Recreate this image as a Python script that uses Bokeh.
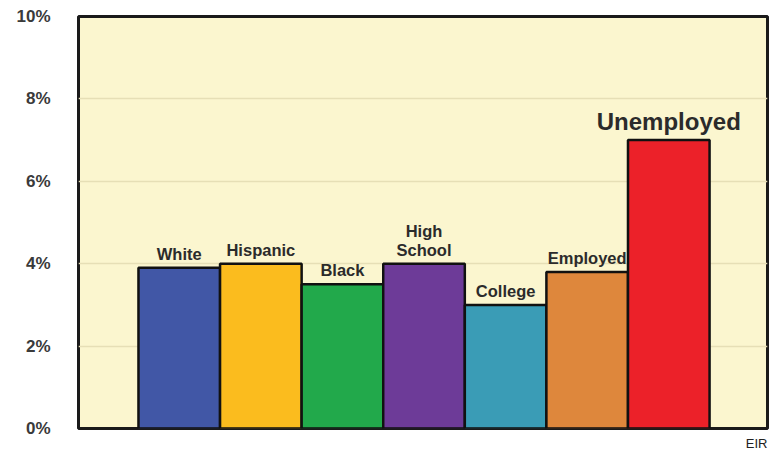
from bokeh.plotting import figure
from bokeh.models import ColumnDataSource, FixedTicker, Range1d, Title, LabelSet
from bokeh.core.properties import value
from bokeh.embed import file_html
from bokeh.resources import INLINE

categories = ["White", "Hispanic", "Black", "High School", "College", "Employed", "Unemployed"]
values = [3.9, 4.0, 3.5, 4.0, 3.0, 3.8, 7.0]
colors = ["#4157a6", "#fbbc1e", "#22a94b", "#6d3b98", "#3a9cb6", "#de873c", "#ec2129"]
y_ticks = [0, 2, 4, 6, 8, 10]
y_tick_labels = ["0%", "2%", "4%", "6%", "8%", "10%"]

xs = list(range(len(categories)))
# split labels into lines (last line sits on the bar)
lower_line, upper_line, sizes = [], [], []
for c in categories:
    if c == "High School":
        upper_line.append("High")
        lower_line.append("School")
    else:
        upper_line.append("")
        lower_line.append(c)
    sizes.append("24px" if c == "Unemployed" else "16.5px")

src = ColumnDataSource(dict(x=xs, top=values, color=colors, lower=lower_line,
                            upper=upper_line, size=sizes))

p = figure(width=774, height=455, output_backend="svg", toolbar_location=None,
           x_range=Range1d(-1.235, 7.21), y_range=Range1d(0, 10),
           min_border_left=78, min_border_right=7, min_border_top=16, min_border_bottom=4,
           background_fill_color="#fbf6cf", border_fill_color="white")

p.vbar(x="x", top="top", width=1.0, bottom=0, fill_color="color",
       line_color="#111111", line_width=2.5, source=src)

common = dict(x="x", y="top", source=src, text_align="center", text_baseline="bottom",
              text_font_size="size", text_font=value("Liberation Sans"),
              text_font_style="bold", text_color="#2b2b2b")
p.add_layout(LabelSet(text="lower", y_offset=5, **common))
p.add_layout(LabelSet(text="upper", y_offset=24, **common))

p.xaxis.visible = False
p.xgrid.visible = False
p.ygrid.grid_line_color = "#e6dfb6"
p.ygrid.grid_line_width = 1.5
p.yaxis.ticker = FixedTicker(ticks=y_ticks)
p.yaxis.major_label_overrides = {t: l for t, l in zip(y_ticks, y_tick_labels)}
p.yaxis.axis_line_color = None
p.yaxis.major_tick_line_color = None
p.yaxis.minor_tick_line_color = None
p.yaxis.major_label_text_font = "Liberation Sans"
p.yaxis.major_label_text_font_style = "bold"
p.yaxis.major_label_text_font_size = "17px"
p.yaxis.major_label_text_color = "#3a3a3a"
p.yaxis.major_label_standoff = 22

p.outline_line_color = "#1a1a1a"
p.outline_line_width = 3
p.outline_line_alpha = 1.0

p.add_layout(Title(text="EIR", align="right", text_font="Liberation Sans",
                   text_font_style="normal", text_font_size="13px", text_color="#222222"), "below")

open("out.html", "w").write(file_html(p, INLINE))
